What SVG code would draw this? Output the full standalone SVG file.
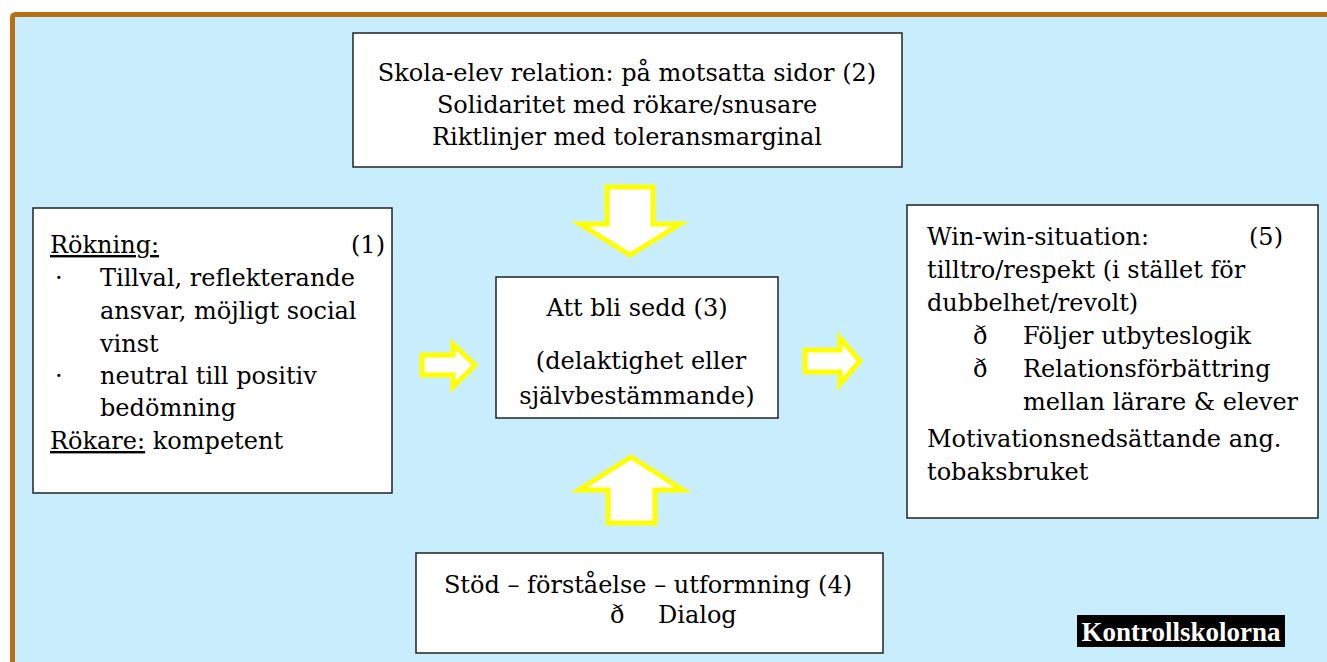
<svg xmlns="http://www.w3.org/2000/svg" width="1327" height="662" viewBox="0 0 1327 662">
<style>
.t{font-family:"DejaVu Serif","Liberation Serif",serif;font-size:24px;fill:#000}
.c{text-anchor:middle}
.box{fill:#fff;stroke:#222;stroke-width:1.5}
.arr{fill:#fff;stroke:#ffff00;stroke-width:5;stroke-linejoin:miter}
.u{text-decoration:underline}
</style>
<rect x="0" y="0" width="1327" height="662" fill="#fff"/>
<rect x="12.5" y="14.5" width="1400" height="700" rx="3" fill="#c8eefe" stroke="#b87014" stroke-width="5"/>
<g id="connectors">
<polygon class="arr" points="607,187 653,187 653,224 680,224 630,255 580,224 607,224"/>
<polygon class="arr" points="631,457 683,490 655,490 655,523 608,523 608,490 579,490"/>
<polygon class="arr" points="422,355 453,355 453,344 475,365 453,387 453,375 422,375"/>
<polygon class="arr" points="805,350 840,350 840,338 860,361 840,384 840,372 805,372"/>
</g>
<g id="n2">
<rect class="box" x="353" y="33" width="549" height="134"/>
<text class="t c" x="627" y="81">Skola-elev relation: på motsatta sidor (2)</text>
<text class="t c" x="627" y="113">Solidaritet med rökare/snusare</text>
<text class="t c" x="627" y="145">Riktlinjer med toleransmarginal</text>
</g>
<g id="n1">
<rect class="box" x="33" y="208" width="359" height="285"/>
<text class="t" x="50" y="253"><tspan class="u">Rökning:</tspan></text>
<text class="t" x="351" y="253">(1)</text>
<text class="t" x="55" y="286">·</text>
<text class="t" x="100" y="286">Tillval, reflekterande</text>
<text class="t" x="100" y="319">ansvar, möjligt social</text>
<text class="t" x="100" y="352">vinst</text>
<text class="t" x="55" y="384">·</text>
<text class="t" x="100" y="384">neutral till positiv</text>
<text class="t" x="100" y="416">bedömning</text>
<text class="t" x="50" y="449"><tspan class="u">Rökare:</tspan> kompetent</text>
</g>
<g id="n3">
<rect class="box" x="496" y="277" width="282" height="141"/>
<text class="t c" x="637" y="316">Att bli sedd (3)</text>
<text class="t c" x="641" y="369">(delaktighet eller</text>
<text class="t c" x="637" y="404">självbestämmande)</text>
</g>
<g id="n5">
<rect class="box" x="907" y="205" width="411" height="313"/>
<text class="t" x="927" y="245">Win-win-situation:</text>
<text class="t" x="1249" y="245">(5)</text>
<text class="t" x="927" y="278">tilltro/respekt (i stället för</text>
<text class="t" x="927" y="311">dubbelhet/revolt)</text>
<text class="t" x="973" y="344">ð</text>
<text class="t" x="1023" y="344">Följer utbyteslogik</text>
<text class="t" x="973" y="377">ð</text>
<text class="t" x="1023" y="377">Relationsförbättring</text>
<text class="t" x="1023" y="410">mellan lärare &amp; elever</text>
<text class="t" x="927" y="447">Motivationsnedsättande ang.</text>
<text class="t" x="927" y="480">tobaksbruket</text>
</g>
<g id="n4">
<rect class="box" x="416" y="553" width="467" height="100"/>
<text class="t c" x="648" y="593">Stöd – förståelse – utformning (4)</text>
<text class="t" x="610" y="623">ð</text>
<text class="t" x="658" y="623">Dialog</text>
</g>
<g id="label">
<rect x="1077" y="615" width="208" height="32" fill="#000"/>
<text x="1181" y="641" text-anchor="middle" font-family="Liberation Serif, serif" font-weight="bold" font-size="27" fill="#fff">Kontrollskolorna</text>
</g>
</svg>
